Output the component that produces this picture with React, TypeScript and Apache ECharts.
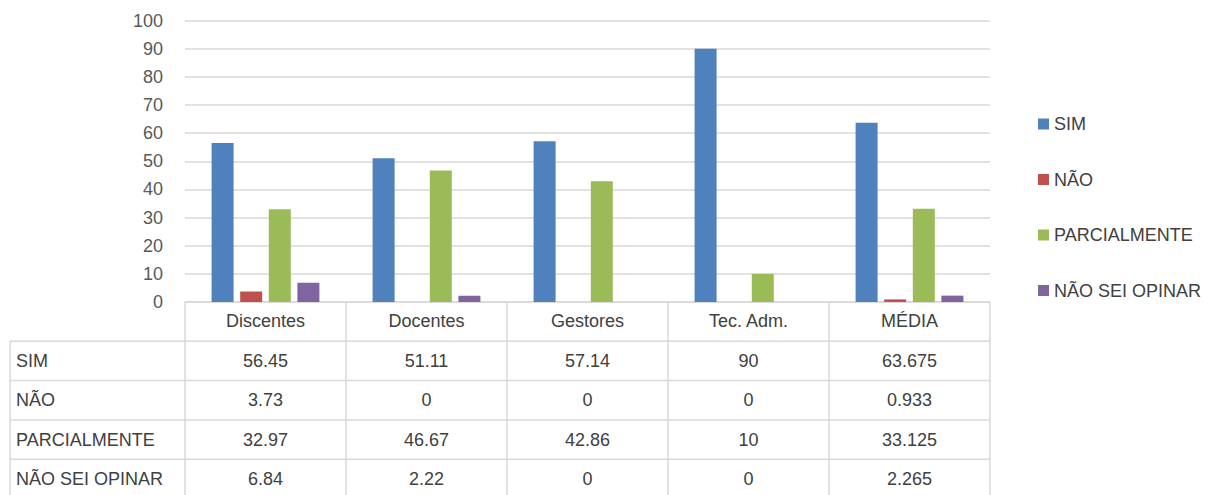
import React, { useEffect, useRef } from "react";
import * as echarts from "echarts";

const categories = ["Discentes", "Docentes", "Gestores", "Tec. Adm.", "MÉDIA"];
const seriesNames = ["SIM", "NÃO", "PARCIALMENTE", "NÃO SEI OPINAR"];
const simValues = [56.45, 51.11, 57.14, 90, 63.675];
const naoValues = [3.73, 0, 0, 0, 0.933];
const parcialmenteValues = [32.97, 46.67, 42.86, 10, 33.125];
const naoSeiValues = [6.84, 2.22, 0, 0, 2.265];
const yTicks = { min: 0, max: 100, interval: 10 };

const colors = ["#4F81BD", "#C0504D", "#9BBB59", "#8064A2"];
const FONT = "Liberation Sans";
const TEXT = "#404040";
const LINE = "#d9d9d9";

export default function App() {
  const ref = useRef<HTMLDivElement>(null);
  useEffect(() => {
    if (!ref.current) return;
    const chart = echarts.init(ref.current, undefined, { renderer: "svg" });
    const allValues = [simValues, naoValues, parcialmenteValues, naoSeiValues];
    chart.setOption({
      animation: false,
      color: colors,
      textStyle: { fontFamily: FONT },
      grid: { left: 185, right: 232, top: 20.5, bottom: 193, containLabel: false },
      legend: {
        orient: "vertical",
        left: 1033,
        top: 110,
        itemWidth: 11,
        itemHeight: 11,
        itemGap: 37.5,
        icon: "rect",
        textStyle: { fontSize: 18, color: TEXT, fontFamily: FONT },
        data: seriesNames,
      },
      xAxis: {
        type: "category",
        data: categories,
        axisLine: { lineStyle: { color: LINE, width: 1.5 } },
        axisTick: { show: false },
        axisLabel: { fontSize: 18, color: TEXT, margin: 10, fontFamily: FONT },
      },
      yAxis: {
        type: "value",
        min: yTicks.min,
        max: yTicks.max,
        interval: yTicks.interval,
        axisLine: { show: false },
        axisTick: { show: false },
        axisLabel: { fontSize: 18, color: "#595959", margin: 22, fontFamily: FONT },
        splitLine: { lineStyle: { color: LINE, width: 1.5 } },
      },
      series: seriesNames.map((name, i) => ({
        name,
        type: "bar",
        data: allValues[i],
        barWidth: 22,
        barGap: "30%",
        itemStyle: { color: colors[i] },
      })),
    });

    // data table below the axis
    const c0 = chart.convertToPixel({ xAxisIndex: 0 }, 0) as number;
    const c1 = chart.convertToPixel({ xAxisIndex: 0 }, 1) as number;
    const band = c1 - c0;
    const y0 = chart.convertToPixel({ yAxisIndex: 0 }, 0) as number;
    const rowH = 39.3;
    const tableLeft = 10;
    const firstEdge = c0 - band / 2;
    const tableRight = firstEdge + band * categories.length;
    const bottom = y0 + 6 * rowH;
    const elements: any[] = [];
    for (let k = 1; k <= 5; k++) {
      const y = y0 + k * rowH;
      elements.push({
        type: "line",
        shape: { x1: tableLeft, y1: y, x2: tableRight, y2: y },
        style: { stroke: LINE, lineWidth: 1.5 },
      });
    }
    elements.push({
      type: "line",
      shape: { x1: tableLeft, y1: y0 + rowH, x2: tableLeft, y2: bottom },
      style: { stroke: LINE, lineWidth: 1.5 },
    });
    for (let ci = 0; ci <= categories.length; ci++) {
      const x = firstEdge + ci * band;
      elements.push({
        type: "line",
        shape: { x1: x, y1: y0, x2: x, y2: bottom },
        style: { stroke: LINE, lineWidth: 1.5 },
      });
    }
    seriesNames.forEach((name, r) => {
      const cy = y0 + (r + 1.5) * rowH;
      elements.push({
        type: "text",
        x: tableLeft + 6,
        y: cy,
        style: { text: name, fontSize: 18, fill: TEXT, fontFamily: FONT, align: "left", verticalAlign: "middle" },
      });
      allValues[r].forEach((v, ci) => {
        const cx = chart.convertToPixel({ xAxisIndex: 0 }, ci) as number;
        elements.push({
          type: "text",
          x: cx,
          y: cy,
          style: { text: String(v), fontSize: 18, fill: TEXT, fontFamily: FONT, align: "center", verticalAlign: "middle" },
        });
      });
    });
    chart.setOption({ graphic: elements });

    return () => chart.dispose();
  }, []);
  return (
    <div
      ref={ref}
      style={{ position: "fixed", left: 0, top: 0, width: 1222, height: 495, background: "#fff" }}
    />
  );
}
